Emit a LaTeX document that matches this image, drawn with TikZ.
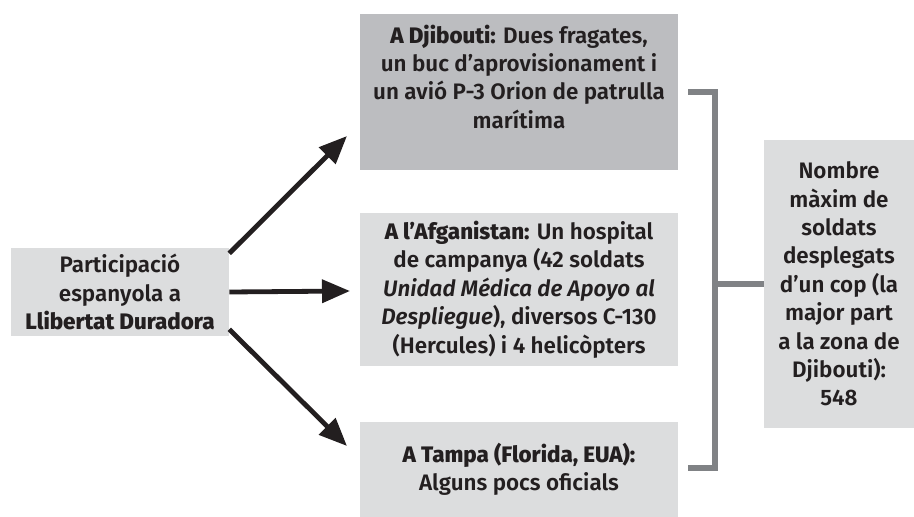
\documentclass[tikz,border=0pt]{standalone}
\usepackage{fontspec}
\setmainfont{Fira Sans}[UprightFont={* SemiBold}, BoldFont={* ExtraBold}, ItalicFont={* SemiBold Italic}]
\usetikzlibrary{arrows.meta, positioning}
\definecolor{llgray}{HTML}{DCDDDE}
\definecolor{lldark}{HTML}{BCBDC0}
\definecolor{llline}{HTML}{808285}
\definecolor{llink}{HTML}{231F20}

\begin{document}
\begin{tikzpicture}[
  x=0.75pt, y=-0.75pt,
  every node/.style={font=\fontsize{16.8}{21.3}\selectfont, text=llink},
  box/.style={rectangle, fill=llgray, inner sep=0pt, align=center},
  arrowline/.style={llink, line width=3.6pt, -{Triangle[length=21pt, width=17pt]}},
  bracket/.style={llline, line width=3.8pt},
]
\useasboundingbox (0,0) rectangle (914,517);

% source
\node[box, minimum width=163.5pt, minimum height=66pt] (part) at (120,292) {Participació\\espanyola a\\\textbf{Llibertat Duradora}};

% the three places
\node[box, fill=lldark, minimum width=238.5pt, minimum height=117pt] (dji) at (519,92) {};
\node[align=center, inner sep=0pt, anchor=north] (djitext) at ([yshift=-8pt]dji.north) {\textbf{A Djibouti:} Dues fragates,\\un buc d’aprovisionament i\\un avió P-3 Orion de patrulla\\marítima};
\node[box, minimum width=238.5pt, minimum height=114.75pt] (afg) at (519,289.5) {\textbf{A l’Afganistan:} Un hospital\\de campanya (42 soldats\\\textit{Unidad Médica de Apoyo al}\\\textit{Despliegue}), diversos C-130\\(Hercules) i 4 helicòpters};
\node[box, minimum width=238.5pt, minimum height=71.25pt] (tampa) at (519,469.5) {\textbf{A Tampa (Florida, EUA):}\\Alguns pocs oficials};

% total
\node[box, minimum width=112.5pt, minimum height=216pt] (total) at (839,284) {Nombre\\màxim de\\soldats\\desplegats\\d’un cop (la\\major part\\a la zona de\\Djibouti):\\548};

% arrows
\coordinate (tip1) at (347,136);
\coordinate (tip2) at (350,291);
\coordinate (tip3) at (347,446);
\draw[arrowline] ([yshift=29pt]part.east) -- (tip1);
\draw[arrowline] ([yshift=0pt]part.east) -- (tip2);
\draw[arrowline] ([yshift=-28pt]part.east) -- (tip3);

% bracket
\coordinate (btop) at (688,92);
\coordinate (bbot) at (688,468);
\coordinate (bvert) at (715,92);
\draw[bracket] (btop) -- (bvert) |- (bbot);
\draw[bracket] (total.west) -- (total.west -| bvert);
\end{tikzpicture}
\end{document}
